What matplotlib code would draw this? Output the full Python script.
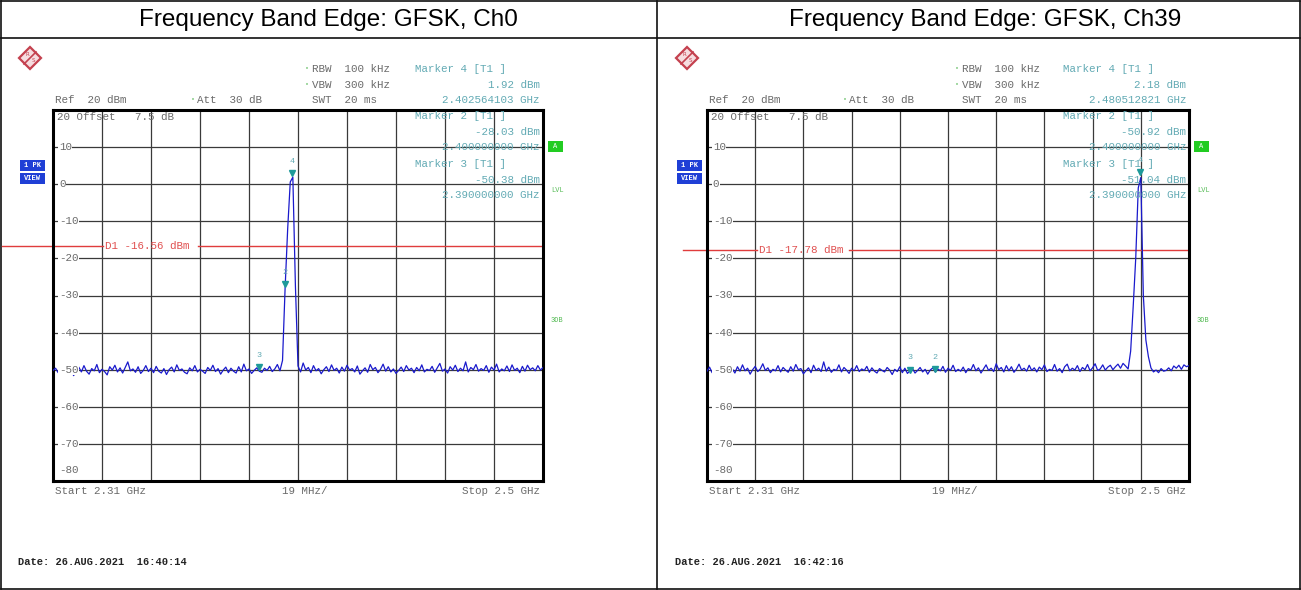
import matplotlib.pyplot as plt
import numpy as np
from matplotlib.patches import Rectangle, Polygon

W, H = 1301, 590

# sweep settings (GHz) - analyzer trace points at 1 MHz spacing
sweep_start = 2.31
sweep_stop = 2.5
n_points = 191

titles = ["Frequency Band Edge: GFSK, Ch0", "Frequency Band Edge: GFSK, Ch39"]
dates = ["Date: 26.AUG.2021  16:40:14", "Date: 26.AUG.2021  16:42:16"]

# trace levels in dBm
level_ch0 = [
    -50.2, -49.6, -50.8, -49.1, -50.5, -48.7, -50.9, -49.8, -51.6, -50.1,
    -49.3, -50.6, -48.9, -50.4, -51.2, -49.7, -50.3, -48.6, -50.8, -49.9,
    -50.5, -51.4, -49.2, -50.1, -48.8, -50.6, -49.5, -50.9, -49.4, -47.9,
    -50.3, -49.8, -50.7, -49.2, -51.0, -50.2, -48.9, -50.5, -49.6, -50.8,
    -49.1, -50.4, -50.9, -49.7, -51.3, -50.0, -49.3, -50.6, -48.7, -50.2,
    -49.8, -50.7, -51.1, -49.5, -50.3, -48.9, -50.6, -49.9, -50.4, -51.0,
    -49.4, -50.2, -48.8, -50.5, -49.7, -51.2, -50.1, -49.3, -50.8, -49.6,
    -50.4, -50.9, -49.2, -50.6, -48.5, -50.3, -49.8, -51.0, -50.2, -49.5,
    -50.4, -50.7, -49.6, -50.2, -49.1, -50.5, -49.8, -48.6,
    -50.3, -47.5, -28.0, -12.0, 0.6, 1.9, -27.5, -49.0,
    -50.6, -48.2, -50.1, -49.4, -50.8, -48.9, -50.3, -49.7, -51.1, -50.0,
    -49.2, -50.5, -48.7, -50.2, -49.6, -50.9, -49.3, -50.4, -48.8, -50.1,
    -49.7, -50.6, -49.0, -51.2, -50.3, -49.5, -50.7, -48.6, -50.0, -49.4,
    -50.8, -49.9, -48.5, -50.4, -49.2, -50.6, -49.8, -51.0, -50.2, -49.3,
    -50.5, -48.9, -50.1, -49.6, -50.8, -49.4, -50.3, -48.7, -50.6, -49.9,
    -50.2, -49.1, -50.7, -49.5, -48.3, -50.4, -49.8, -50.9, -49.2, -50.1,
    -48.8, -50.5, -49.6, -50.3, -47.9, -50.6, -49.4, -50.0, -48.6, -50.4,
    -49.7, -50.2, -48.9, -50.7, -49.3, -50.1, -48.5, -50.6, -49.8, -50.3,
    -49.0, -50.5, -48.7, -50.2, -49.6, -50.8, -49.1, -50.4, -48.8, -50.0,
    -49.5, -50.3, -48.9, -50.1, -49.4,
]
level_ch39 = [
    -50.4, -49.3, -50.8, -48.9, -50.2, -49.7, -51.0, -50.1, -49.4, -50.6,
    -49.8, -50.9, -49.2, -50.4, -48.7, -50.3, -49.6, -51.2, -50.0, -49.1,
    -50.5, -49.8, -48.4, -50.2, -49.5, -50.8, -49.9, -50.3, -48.9, -50.6,
    -49.4, -50.1, -50.7, -49.2, -50.4, -48.6, -50.0, -49.7, -51.1, -50.3,
    -49.5, -50.8, -48.8, -50.2, -49.6, -50.5, -47.9, -50.4, -49.3, -50.7,
    -49.9, -50.2, -48.7, -50.6, -49.4, -50.1, -51.0, -49.6, -50.3, -48.9,
    -50.5, -49.8, -50.2, -49.1, -50.7, -49.5, -50.4, -50.9, -49.7, -50.2,
    -50.6, -49.4, -50.1, -51.3, -49.9, -50.5, -49.2, -50.8, -49.6, -51.0,
    -50.3, -49.7, -50.9, -50.2, -49.4, -50.6, -49.9, -51.2, -50.1, -49.5,
    -50.6, -49.8, -50.3, -49.1, -50.7, -49.6, -50.2, -48.8, -50.5, -49.9,
    -50.4, -49.3, -50.8, -49.7, -50.1, -48.6, -50.3, -49.5, -50.9, -49.8,
    -48.7, -50.2, -49.6, -50.5, -48.4, -50.0, -49.4, -50.6, -48.9, -50.3,
    -49.2, -50.7, -49.8, -48.5, -50.1, -49.6, -50.4, -48.8, -50.2, -49.5,
    -50.6, -49.3, -50.0, -48.7, -50.5, -49.9, -50.2, -48.6, -50.4, -49.7,
    -50.8, -49.2, -48.5, -50.3, -49.6, -50.1, -48.9, -50.5, -49.4, -50.0,
    -48.6, -50.3, -49.5, -48.4, -50.2, -49.8, -48.7, -50.1, -49.3, -48.8,
    -50.0, -49.2, -48.5, -49.6, -48.3, -49.0,
    -49.8, -45.0, -33.0, -20.0, -1.0, 1.8, -30.0, -42.0, -46.5, -49.5,
    -50.6, -50.1, -50.8, -49.7, -50.4, -50.2, -49.5, -50.3, -49.0, -49.6,
    -48.8, -49.9, -48.7, -49.2, -48.9,
]

# marker number -> (frequency GHz, level dBm)
markers_ch0 = {"4": (2.402564103, 1.92), "2": (2.400000000, -28.03), "3": (2.390000000, -50.38)}
markers_ch39 = {"4": (2.480512821, 2.18), "2": (2.400000000, -50.92), "3": (2.390000000, -51.04)}
marker_order = ["4", "2", "3"]
d1_levels = [-16.56, -17.78]

GRAY = "#6a6a6a"
TEAL = "#62aab4"
MONO = "Liberation Mono"

fig = plt.figure(figsize=(W / 100, H / 100), dpi=100)
bg = fig.add_axes([0, 0, 1, 1])
bg.set_xlim(0, W)
bg.set_ylim(H, 0)
bg.axis("off")

# table frame
for xs, ys in [([1, W - 1], [1, 1]), ([1, W - 1], [H - 1, H - 1]), ([1, 1], [1, H - 1]),
               ([W - 1, W - 1], [1, H - 1]), ([1, W - 1], [38, 38]), ([657, 657], [1, H - 1])]:
    bg.plot(xs, ys, color="#111111", lw=1.2)


def px_rect(l, t, r, b):
    return [l / W, (H - b) / H, (r - l) / W, (b - t) / H]


def fx(x):
    return (x - 53) / 490


def fy(y):
    return (481 - y) / 371


freq = np.linspace(sweep_start, sweep_stop, n_points)

panels = [
    dict(x0=0, rect=(53, 110, 543, 481), levels=level_ch0, markers=markers_ch0,
         title_x=328, d1_start=2),
    dict(x0=657, rect=(707, 110, 1189, 481), levels=level_ch39, markers=markers_ch39,
         title_x=985, d1_start=683),
]

for i, p in enumerate(panels):
    l, t, r, b = p["rect"]
    pw = r - l
    ax = fig.add_axes(px_rect(l, t, r, b))
    ax.set_facecolor("none")
    ax.set_xlim(sweep_start, sweep_stop)
    ax.set_ylim(-80, 20)
    ax.set_xticks(np.linspace(sweep_start, sweep_stop, 11))
    ax.set_yticks(np.arange(-80, 21, 10))
    ax.grid(True, color="#3a3a3a", lw=0.9)
    ax.tick_params(length=0, labelbottom=False, labelleft=False)
    for s in ax.spines.values():
        s.set_linewidth(2.2)
        s.set_color("black")

    bg.text(p["title_x"], 20, titles[i], ha="center", va="center",
            fontsize=17.5, family="Liberation Sans", color="black")

    # R&S logo
    cx, cy = p["x0"] + 30, 58
    bg.add_patch(Polygon([(cx, cy - 11), (cx + 11, cy), (cx, cy + 11), (cx - 11, cy)],
                         closed=True, fc="#f6dde0", ec="#c4414f", lw=1.6))
    bg.plot([cx - 6, cx + 6], [cy + 6, cy - 6], color="#c4414f", lw=1.2)
    bg.text(cx - 3, cy - 3, "R", fontsize=4, color="#c4414f", ha="center", va="center")
    bg.text(cx + 3, cy + 3, "S", fontsize=4, color="#c4414f", ha="center", va="center")

    # 1 PK / VIEW boxes
    for yy, lab in [(160, "1 PK"), (173, "VIEW")]:
        bg.add_patch(Rectangle((p["x0"] + 20, yy), 25, 11, fc="#1f3fd6", ec="none"))
        bg.text(p["x0"] + 32.5, yy + 5.5, lab, fontsize=5, family=MONO, color="white",
                ha="center", va="center", fontweight="bold")

    bg.text(p["x0"] + 18, 562, dates[i], fontsize=7.5, family=MONO, color="#222222",
            va="center", fontweight="bold")

    # trace
    ax.plot(freq, p["levels"], color="#1a1acc", lw=0.9, zorder=3)

    # markers
    for m, (mf, ml) in p["markers"].items():
        ax.plot(mf, ml + 1.0, marker="v", ms=5, color="#1e9a9a", zorder=4, clip_on=False)
        ax.text(mf, ml + 4.2, m, fontsize=6, color=TEAL, ha="center", va="center",
                family=MONO, zorder=4)

    # D1 display line
    d1 = d1_levels[i]
    ytr = ax.get_yaxis_transform()
    start = (p["d1_start"] - l) / pw
    ax.plot([start, 0.103], [d1, d1], color="#e03c3c", lw=1.0, transform=ytr, clip_on=False)
    ax.plot([0.295, 1.0], [d1, d1], color="#e03c3c", lw=1.0, transform=ytr, clip_on=False)
    ax.text(0.107, d1, f"D1 {d1:.2f} dBm", transform=ytr, fontsize=7.8, family=MONO,
            color="#e05050", va="center")

    # y labels inside grid
    for v in range(10, -80, -10):
        ax.text(0.012, v, str(v), transform=ytr, fontsize=7.8, family=MONO, color=GRAY,
                va="center", bbox=dict(fc="white", ec="none", pad=0.3))
    ax.text(0.012, -77, "-80", transform=ytr, fontsize=7.8, family=MONO, color=GRAY, va="center")
    ax.text(fx(57), fy(117), "20 Offset   7.5 dB", transform=ax.transAxes, fontsize=7.8,
            family=MONO, color=GRAY, va="center")

    # header settings
    kw = dict(transform=ax.transAxes, fontsize=7.8, family=MONO, va="center", clip_on=False)
    ax.text(fx(55), fy(100), "Ref  20 dBm", color=GRAY, **kw)
    ax.text(fx(197), fy(100), "Att  30 dB", color=GRAY, **kw)
    ax.text(fx(312), fy(69), "RBW  100 kHz", color=GRAY, **kw)
    ax.text(fx(312), fy(85), "VBW  300 kHz", color=GRAY, **kw)
    ax.text(fx(312), fy(100), "SWT  20 ms", color=GRAY, **kw)
    for bx, by in [(193, 100), (307, 69), (307, 85)]:
        ax.text(fx(bx), fy(by), "•", color="#8fd08f", transform=ax.transAxes, fontsize=5,
                va="center", ha="center", clip_on=False)

    # marker readouts
    for k, m in enumerate(marker_order):
        mf, ml = p["markers"][m]
        y0 = [69, 116, 164][k]
        ax.text(fx(415), fy(y0), f"Marker {m} [T1 ]", color=TEAL, **kw)
        ax.text(fx(540), fy(y0 + 16), f"{ml:.2f} dBm", color=TEAL, ha="right", **kw)
        ax.text(fx(540), fy(y0 + 31), f"{mf:.9f} GHz", color=TEAL, ha="right", **kw)

    # right-side indicators
    rx = r + 5
    bg.add_patch(Rectangle((rx, 141), 15, 11, fc="#22cc22", ec="none"))
    bg.text(rx + 7.5, 146.5, "A", fontsize=5, color="white", ha="center", va="center",
            family=MONO)
    bg.text(rx + 3, 190, "LVL", fontsize=5, color="#55bb55", va="center", family=MONO)
    bg.text(rx + 3, 320, "3DB", fontsize=5, color="#55bb55", va="center", family=MONO)

    # bottom axis annotations
    ax.text(fx(55), fy(491), "Start 2.31 GHz", color=GRAY, **kw)
    ax.text(fx(305), fy(491), "19 MHz/", color=GRAY, ha="center", **kw)
    ax.text(fx(540), fy(491), "Stop 2.5 GHz", color=GRAY, ha="right", **kw)

fig.savefig("out.png", dpi=100, facecolor="white")
